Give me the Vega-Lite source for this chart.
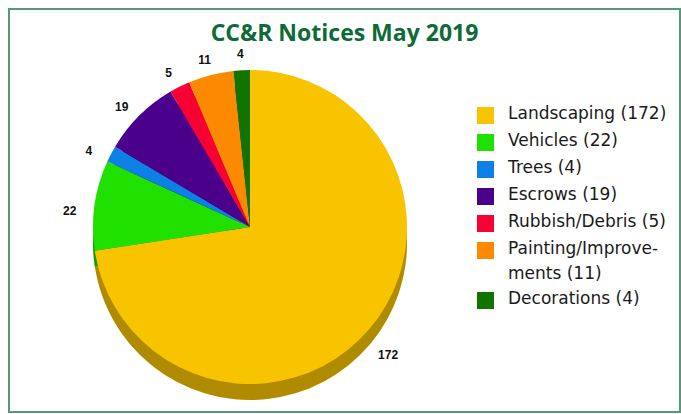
{
  "$schema": "https://vega.github.io/schema/vega-lite/v6.json",
  "width": 681,
  "height": 414,
  "autosize": {"type": "fit", "contains": "padding"},
  "padding": {"left": 8, "top": 8, "right": 0, "bottom": 1},
  "config": {
    "view": {"stroke": null},
    "font": "Open Sans"
  },
  "title": {
    "text": "CC&R Notices May 2019",
    "anchor": "middle",
    "offset": -38,
    "font": "Open Sans",
    "fontSize": 23,
    "fontWeight": "bold",
    "color": "#0E6B37"
  },
  "datasets": {
    "notices": [
      {"category": "Landscaping (172)", "count": 172, "rank": 1},
      {"category": "Vehicles (22)", "count": 22, "rank": 2},
      {"category": "Trees (4)", "count": 4, "rank": 3},
      {"category": "Escrows (19)", "count": 19, "rank": 4},
      {"category": "Rubbish/Debris (5)", "count": 5, "rank": 5},
      {"category": "Painting/Improvements (11)", "count": 11, "rank": 6},
      {"category": "Decorations (4)", "count": 4, "rank": 7}
    ],
    "frame": [{"name": "frame"}]
  },
  "layer": [
    {
      "data": {"name": "frame"},
      "mark": {"type": "rect", "fill": "transparent", "stroke": "#55997A", "strokeWidth": 2},
      "encoding": {}
    },
    {
      "data": {"name": "notices"},
      "mark": {"type": "arc", "radius": 157, "x": 241, "y": 234},
      "encoding": {
        "theta": {"field": "count", "type": "quantitative", "stack": true},
        "order": {"field": "rank", "type": "quantitative"},
        "color": {
          "field": "category",
          "type": "nominal",
          "sort": null,
          "scale": {
            "domain": ["Landscaping (172)", "Vehicles (22)", "Trees (4)", "Escrows (19)", "Rubbish/Debris (5)", "Painting/Improvements (11)", "Decorations (4)"],
            "range": ["#F8C400", "#20E000", "#0C80E5", "#4A008A", "#F80034", "#FB8A00", "#117300"]
          },
          "legend": {
            "title": null,
            "orient": "none",
            "legendX": 468,
            "legendY": 98,
            "symbolType": "square",
            "symbolSize": 289,
            "symbolStrokeWidth": 0,
            "labelFont": "DejaVu Sans",
            "labelFontSize": 17,
            "labelColor": "#1A1A1A",
            "labelOffset": 14,
            "labelLimit": 300,
            "labelBaseline": "top",
            "rowPadding": 7,
            "labelExpr": "datum.label == 'Painting/Improvements (11)' ? ['Painting/Improve-', 'ments (11)'] : datum.label",
            "encode": {
              "labels": {"update": {"dy": {"value": -10}, "lineHeight": {"value": 25}}}
            }
          }
        }
      }
    },
    {
      "data": {"name": "frame"},
      "mark": {"type": "arc", "radius": 157, "x": 241, "y": 234, "color": "#000000", "opacity": 0.29},
      "encoding": {}
    },
    {
      "data": {"name": "notices"},
      "mark": {"type": "arc", "radius": 157, "x": 241, "y": 218},
      "encoding": {
        "theta": {"field": "count", "type": "quantitative", "stack": true},
        "order": {"field": "rank", "type": "quantitative"},
        "color": {
          "field": "category",
          "type": "nominal",
          "sort": null,
          "scale": {
            "domain": ["Landscaping (172)", "Vehicles (22)", "Trees (4)", "Escrows (19)", "Rubbish/Debris (5)", "Painting/Improvements (11)", "Decorations (4)"],
            "range": ["#F8C400", "#20E000", "#0C80E5", "#4A008A", "#F80034", "#FB8A00", "#117300"]
          },
          "legend": {
            "title": null,
            "orient": "none",
            "legendX": 468,
            "legendY": 98,
            "symbolType": "square",
            "symbolSize": 289,
            "symbolStrokeWidth": 0,
            "labelFont": "DejaVu Sans",
            "labelFontSize": 17,
            "labelColor": "#1A1A1A",
            "labelOffset": 14,
            "labelLimit": 300,
            "labelBaseline": "top",
            "rowPadding": 7,
            "labelExpr": "datum.label == 'Painting/Improvements (11)' ? ['Painting/Improve-', 'ments (11)'] : datum.label",
            "encode": {
              "labels": {"update": {"dy": {"value": -10}, "lineHeight": {"value": 25}}}
            }
          }
        }
      }
    },
    {
      "data": {"name": "notices"},
      "mark": {"type": "text", "radius": 182, "x": 241, "y": 227, "font": "Liberation Sans", "fontWeight": "bold", "fontSize": 12, "color": "#111111"},
      "encoding": {
        "theta": {"field": "count", "type": "quantitative", "stack": true},
        "order": {"field": "rank", "type": "quantitative"},
        "text": {"field": "count", "type": "quantitative"}
      }
    }
  ]
}
